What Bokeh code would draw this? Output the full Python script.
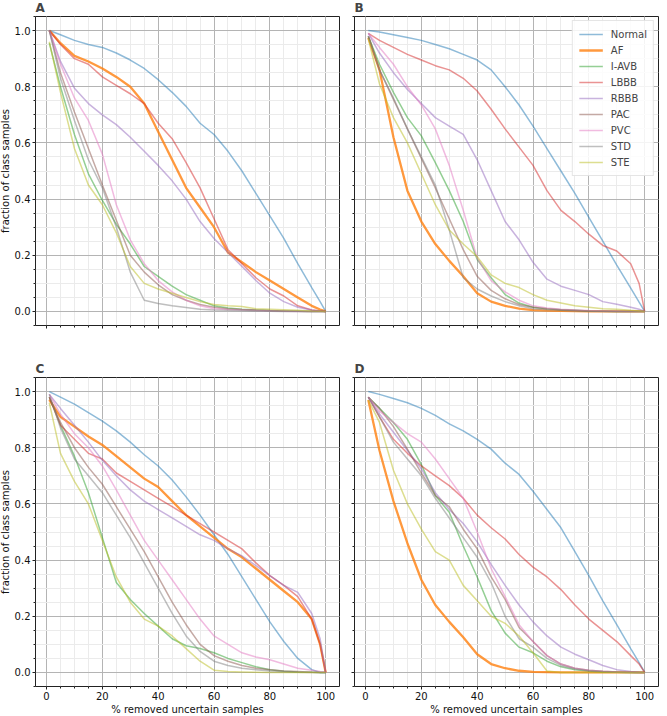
from bokeh.plotting import figure
from bokeh.layouts import gridplot
from bokeh.models import Range1d, SingleIntervalTicker, PrintfTickFormatter, CustomJSTickFormatter
from bokeh.embed import file_html
from bokeh.resources import INLINE

x_pct = [1, 5, 10, 15, 20, 25, 30, 35, 40, 45, 50, 55, 60, 65, 70, 75, 80, 85, 90, 95, 98, 100]
classes = ["Normal", "AF", "I-AVB", "LBBB", "RBBB", "PAC", "PVC", "STD", "STE"]

# ---- Panel A ----
A_Normal = [1.0, 0.985, 0.965, 0.95, 0.94, 0.92, 0.895, 0.865, 0.825, 0.78, 0.73, 0.67, 0.63, 0.57, 0.50, 0.42, 0.34, 0.26, 0.17, 0.085, 0.035, 0.0]
A_AF = [1.0, 0.955, 0.91, 0.89, 0.865, 0.835, 0.80, 0.74, 0.64, 0.54, 0.44, 0.37, 0.30, 0.21, 0.175, 0.14, 0.11, 0.08, 0.05, 0.02, 0.007, 0.0]
A_IAVB = [0.955, 0.80, 0.63, 0.49, 0.395, 0.31, 0.24, 0.16, 0.125, 0.09, 0.06, 0.04, 0.02, 0.012, 0.008, 0.005, 0.003, 0.002, 0.001, 0.0, 0.0, 0.0]
A_LBBB = [1.0, 0.95, 0.90, 0.88, 0.835, 0.805, 0.775, 0.74, 0.67, 0.615, 0.53, 0.44, 0.33, 0.22, 0.17, 0.12, 0.08, 0.055, 0.02, 0.005, 0.002, 0.0]
A_RBBB = [1.0, 0.89, 0.795, 0.74, 0.70, 0.665, 0.62, 0.57, 0.52, 0.465, 0.40, 0.32, 0.26, 0.21, 0.16, 0.11, 0.065, 0.035, 0.015, 0.005, 0.002, 0.0]
A_PAC = [1.0, 0.85, 0.71, 0.58, 0.45, 0.325, 0.20, 0.14, 0.095, 0.06, 0.04, 0.025, 0.015, 0.01, 0.007, 0.005, 0.003, 0.002, 0.001, 0.0, 0.0, 0.0]
A_PVC = [1.0, 0.88, 0.76, 0.68, 0.56, 0.38, 0.255, 0.17, 0.11, 0.07, 0.04, 0.02, 0.01, 0.007, 0.005, 0.003, 0.002, 0.001, 0.0, 0.0, 0.0, 0.0]
A_STD = [1.0, 0.83, 0.68, 0.54, 0.44, 0.30, 0.14, 0.04, 0.028, 0.02, 0.014, 0.008, 0.005, 0.004, 0.003, 0.002, 0.001, 0.0, 0.0, 0.0, 0.0, 0.0]
A_STE = [0.96, 0.78, 0.58, 0.45, 0.38, 0.28, 0.16, 0.10, 0.08, 0.065, 0.05, 0.035, 0.025, 0.02, 0.018, 0.01, 0.008, 0.006, 0.004, 0.002, 0.001, 0.0]

# ---- Panel B ----
B_Normal = [1.0, 0.995, 0.985, 0.975, 0.965, 0.95, 0.935, 0.915, 0.895, 0.86, 0.80, 0.735, 0.66, 0.58, 0.50, 0.42, 0.335, 0.25, 0.165, 0.083, 0.033, 0.0]
B_AF = [0.975, 0.86, 0.62, 0.43, 0.32, 0.24, 0.18, 0.125, 0.065, 0.035, 0.02, 0.01, 0.005, 0.003, 0.002, 0.001, 0.0, 0.0, 0.0, 0.0, 0.0, 0.0]
B_IAVB = [0.98, 0.88, 0.78, 0.69, 0.625, 0.53, 0.43, 0.32, 0.185, 0.12, 0.06, 0.03, 0.015, 0.01, 0.006, 0.004, 0.002, 0.001, 0.0, 0.0, 0.0, 0.0]
B_LBBB = [0.99, 0.965, 0.94, 0.915, 0.895, 0.875, 0.86, 0.83, 0.785, 0.72, 0.65, 0.585, 0.52, 0.43, 0.36, 0.32, 0.275, 0.235, 0.215, 0.17, 0.10, 0.0]
B_RBBB = [0.99, 0.92, 0.85, 0.79, 0.74, 0.69, 0.66, 0.63, 0.54, 0.43, 0.32, 0.255, 0.175, 0.115, 0.09, 0.075, 0.06, 0.035, 0.026, 0.015, 0.008, 0.0]
B_PAC = [0.98, 0.86, 0.755, 0.65, 0.545, 0.44, 0.33, 0.22, 0.125, 0.075, 0.045, 0.025, 0.015, 0.01, 0.006, 0.004, 0.002, 0.001, 0.0, 0.0, 0.0, 0.0]
B_PVC = [0.99, 0.94, 0.88, 0.80, 0.735, 0.65, 0.52, 0.36, 0.19, 0.11, 0.07, 0.04, 0.02, 0.012, 0.008, 0.005, 0.003, 0.002, 0.001, 0.0, 0.0, 0.0]
B_STD = [0.98, 0.86, 0.76, 0.65, 0.55, 0.45, 0.29, 0.12, 0.08, 0.055, 0.035, 0.02, 0.01, 0.006, 0.004, 0.002, 0.001, 0.0, 0.0, 0.0, 0.0, 0.0]
B_STE = [0.97, 0.81, 0.69, 0.60, 0.49, 0.38, 0.29, 0.24, 0.195, 0.13, 0.10, 0.085, 0.06, 0.04, 0.03, 0.02, 0.015, 0.01, 0.008, 0.004, 0.002, 0.0]

# ---- Panel C ----
C_Normal = [1.0, 0.98, 0.955, 0.925, 0.895, 0.86, 0.82, 0.775, 0.735, 0.685, 0.625, 0.56, 0.49, 0.42, 0.34, 0.26, 0.18, 0.11, 0.05, 0.01, 0.0, 0.0]
C_AF = [0.97, 0.91, 0.875, 0.84, 0.81, 0.77, 0.73, 0.69, 0.66, 0.61, 0.56, 0.52, 0.48, 0.44, 0.41, 0.37, 0.33, 0.29, 0.25, 0.19, 0.10, 0.0]
C_IAVB = [0.98, 0.88, 0.77, 0.64, 0.48, 0.32, 0.26, 0.21, 0.165, 0.12, 0.095, 0.085, 0.07, 0.05, 0.035, 0.02, 0.01, 0.004, 0.002, 0.001, 0.0, 0.0]
C_LBBB = [0.98, 0.88, 0.83, 0.78, 0.76, 0.71, 0.68, 0.65, 0.62, 0.59, 0.56, 0.53, 0.50, 0.47, 0.44, 0.39, 0.345, 0.31, 0.27, 0.19, 0.10, 0.0]
C_RBBB = [0.99, 0.94, 0.88, 0.82, 0.755, 0.70, 0.65, 0.61, 0.58, 0.55, 0.52, 0.49, 0.47, 0.44, 0.415, 0.38, 0.345, 0.31, 0.285, 0.21, 0.12, 0.0]
C_PAC = [0.98, 0.89, 0.80, 0.73, 0.67, 0.59, 0.51, 0.43, 0.34, 0.25, 0.17, 0.10, 0.06, 0.04, 0.025, 0.015, 0.01, 0.005, 0.003, 0.001, 0.0, 0.0]
C_PVC = [0.99, 0.92, 0.85, 0.80, 0.735, 0.65, 0.56, 0.47, 0.40, 0.33, 0.26, 0.19, 0.13, 0.10, 0.07, 0.055, 0.045, 0.03, 0.015, 0.008, 0.003, 0.0]
C_STD = [0.99, 0.87, 0.76, 0.70, 0.64, 0.56, 0.48, 0.39, 0.30, 0.21, 0.13, 0.075, 0.04, 0.025, 0.015, 0.01, 0.005, 0.003, 0.001, 0.0, 0.0, 0.0]
C_STE = [0.96, 0.78, 0.68, 0.60, 0.47, 0.34, 0.25, 0.19, 0.165, 0.13, 0.085, 0.04, 0.008, 0.003, 0.002, 0.001, 0.0, 0.0, 0.0, 0.0, 0.0, 0.0]

# ---- Panel D ----
D_Normal = [1.0, 0.99, 0.975, 0.96, 0.94, 0.915, 0.885, 0.86, 0.83, 0.795, 0.745, 0.705, 0.645, 0.58, 0.515, 0.43, 0.345, 0.255, 0.17, 0.085, 0.035, 0.0]
D_AF = [0.97, 0.79, 0.61, 0.46, 0.33, 0.24, 0.18, 0.125, 0.065, 0.03, 0.015, 0.006, 0.002, 0.001, 0.0, 0.0, 0.0, 0.0, 0.0, 0.0, 0.0, 0.0]
D_IAVB = [0.98, 0.94, 0.89, 0.83, 0.74, 0.63, 0.57, 0.45, 0.34, 0.22, 0.14, 0.09, 0.07, 0.04, 0.02, 0.01, 0.005, 0.002, 0.001, 0.0, 0.0, 0.0]
D_LBBB = [0.98, 0.91, 0.83, 0.78, 0.735, 0.70, 0.665, 0.62, 0.56, 0.515, 0.475, 0.42, 0.375, 0.34, 0.295, 0.24, 0.19, 0.15, 0.11, 0.06, 0.03, 0.0]
D_RBBB = [0.98, 0.92, 0.855, 0.79, 0.725, 0.64, 0.58, 0.53, 0.465, 0.385, 0.31, 0.24, 0.18, 0.13, 0.09, 0.065, 0.045, 0.025, 0.01, 0.003, 0.001, 0.0]
D_PAC = [0.98, 0.94, 0.875, 0.795, 0.71, 0.63, 0.59, 0.51, 0.44, 0.34, 0.26, 0.16, 0.11, 0.06, 0.03, 0.015, 0.008, 0.004, 0.002, 0.001, 0.0, 0.0]
D_PVC = [0.98, 0.93, 0.89, 0.85, 0.82, 0.76, 0.69, 0.62, 0.50, 0.37, 0.27, 0.17, 0.11, 0.06, 0.03, 0.015, 0.008, 0.004, 0.002, 0.001, 0.0, 0.0]
D_STD = [0.98, 0.91, 0.82, 0.76, 0.70, 0.62, 0.55, 0.48, 0.41, 0.32, 0.20, 0.12, 0.09, 0.05, 0.025, 0.012, 0.006, 0.003, 0.001, 0.0, 0.0, 0.0]
D_STE = [0.97, 0.89, 0.72, 0.60, 0.51, 0.43, 0.40, 0.31, 0.255, 0.20, 0.175, 0.13, 0.07, 0.005, 0.0, 0.0, 0.0, 0.0, 0.0, 0.0, 0.0, 0.0]

panels = {
    "A": [A_Normal, A_AF, A_IAVB, A_LBBB, A_RBBB, A_PAC, A_PVC, A_STD, A_STE],
    "B": [B_Normal, B_AF, B_IAVB, B_LBBB, B_RBBB, B_PAC, B_PVC, B_STD, B_STE],
    "C": [C_Normal, C_AF, C_IAVB, C_LBBB, C_RBBB, C_PAC, C_PVC, C_STD, C_STE],
    "D": [D_Normal, D_AF, D_IAVB, D_LBBB, D_RBBB, D_PAC, D_PVC, D_STD, D_STE],
}

colors = ["#1f77b4", "#ff7f0e", "#2ca02c", "#d62728", "#9467bd", "#8c564b", "#e377c2", "#7f7f7f", "#bcbd22"]
alphas = [0.5, 0.8, 0.5, 0.5, 0.5, 0.5, 0.5, 0.5, 0.5]
widths = [1.5, 2.3, 1.5, 1.5, 1.5, 1.5, 1.5, 1.5, 1.5]

FONT = "DejaVu Sans"
FW, FH = 304, 309


def make_panel(letter, series, left, bottom, legend=False):
    p = figure(frame_width=FW, frame_height=FH,
               x_range=Range1d(-3.95, 104.95), y_range=Range1d(-0.05, 1.05),
               output_backend="svg", toolbar_location=None, title=letter,
               min_border_left=34 if left else 10,
               min_border_right=5 if left else 4,
               min_border_top=0,
               min_border_bottom=26 if bottom else 33)
    p.title.text_font = FONT
    p.title.text_font_size = "12px"
    p.title.text_font_style = "bold"
    p.title.align = "left"
    p.title.offset = 0
    p.title.standoff = 3
    p.background_fill_color = "white"
    p.border_fill_color = "white"
    p.outline_line_color = "#222222"
    p.outline_line_width = 1

    p.xaxis.ticker = SingleIntervalTicker(interval=20, num_minor_ticks=4)
    p.yaxis.ticker = SingleIntervalTicker(interval=0.2, num_minor_ticks=4)
    p.yaxis.formatter = PrintfTickFormatter(format="%.1f")

    for ax in (p.xaxis[0], p.yaxis[0]):
        ax.axis_line_color = None
        ax.major_tick_in = 0
        ax.major_tick_out = 3
        ax.minor_tick_in = 0
        ax.minor_tick_out = 2
        ax.major_tick_line_color = "#222222"
        ax.minor_tick_line_color = "#222222"
        ax.major_label_text_font = FONT
        ax.major_label_text_font_size = "10px"
        ax.major_label_text_color = "#111111"
        ax.major_label_standoff = 2
        ax.axis_label_text_font = FONT
        ax.axis_label_text_font_size = "10px"
        ax.axis_label_text_font_style = "normal"
        ax.axis_label_text_color = "#111111"
        ax.axis_label_standoff = 1

    if left:
        p.yaxis.axis_label = "fraction of class samples"
    else:
        p.yaxis.formatter = CustomJSTickFormatter(code="return ''")
    if bottom:
        p.xaxis.axis_label = "% removed uncertain samples"
    else:
        p.xaxis.formatter = CustomJSTickFormatter(code="return ''")

    for g in (p.xgrid[0], p.ygrid[0]):
        g.grid_line_color = "#b4b4b4"
        g.grid_line_width = 1
        g.minor_grid_line_color = "#ebebeb"
        g.minor_grid_line_width = 1

    for name, ys, c, a, w in zip(classes, series, colors, alphas, widths):
        kw = dict(line_color=c, line_alpha=a, line_width=w)
        if legend:
            kw["legend_label"] = name
        p.line(x_pct, ys, **kw)

    if legend:
        lg = p.legend[0]
        lg.location = "top_right"
        lg.label_text_font = FONT
        lg.label_text_font_size = "10px"
        lg.label_height = 14
        lg.glyph_height = 14
        lg.glyph_width = 24
        lg.spacing = 2
        lg.padding = 6
        lg.margin = 4
        lg.label_standoff = 8
        lg.border_line_color = "#cccccc"
        lg.border_line_width = 1
        lg.background_fill_alpha = 0.85
    return p


pA = make_panel("A", panels["A"], left=True, bottom=False)
pB = make_panel("B", panels["B"], left=False, bottom=False, legend=True)
pC = make_panel("C", panels["C"], left=True, bottom=True)
pD = make_panel("D", panels["D"], left=False, bottom=True)

grid = gridplot([[pA, pB], [pC, pD]], toolbar_location=None)
grid.margin = (-3, 0, -8, -4)

open("out.html", "w").write(file_html(grid, INLINE))
